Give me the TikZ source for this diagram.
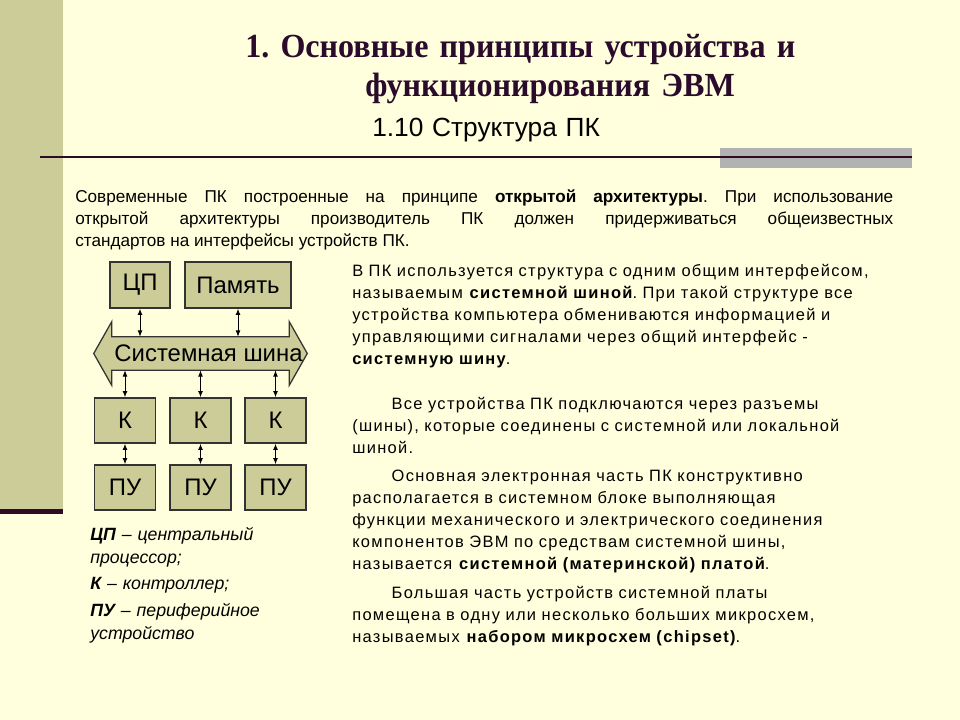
\documentclass[tikz,border=0pt]{standalone}
\usepackage{fontspec}
\setmainfont{Liberation Sans}
\newfontfamily\ttlfont[FakeStretch=0.95]{Liberation Serif}
\newfontfamily\colfont[LetterSpace=8]{Liberation Sans}
\usetikzlibrary{positioning,arrows.meta,calc}
\definecolor{slbg}{HTML}{FFFFDD}
\definecolor{slbar}{HTML}{CCCC99}
\definecolor{slbox}{HTML}{CCCC99}
\definecolor{slline}{HTML}{2E0A24}
\definecolor{slgray}{HTML}{B2B2B2}
\definecolor{sltitle}{HTML}{2B0B2B}
\newlength\upx
\setlength\upx{0.025cm}
\frenchspacing

\begin{document}
\begin{tikzpicture}[x=0.025cm, y=-0.025cm,
      unit/.style={draw=black!80, line width=0.9pt, fill=slbox, inner sep=0pt,
                   font=\fontsize{17pt}{19pt}\selectfont},
      link/.style={{Latex[length=4.5pt,width=3.5pt]}-{Latex[length=4.5pt,width=3.5pt]}, line width=0.7pt},
      txt/.style={anchor=base west, inner sep=0pt, align=left, text width=600\upx}
    ]
    % slide background
    \fill[slbg] (0,0) rectangle (960,720);
    \useasboundingbox (0,0) rectangle (960,720);
    \fill[slbar] (0,0) rectangle (63,509);
    \fill[slline] (0,509) rectangle (63,514);
    \fill[slgray] (720,148) rectangle (912,168);
    \draw[slline, line width=1.6pt] (40,157) -- (912,157);

    % heading
    \node[txt, text=sltitle, font=\ttlfont\bfseries\fontsize{24pt}{27.6pt}\selectfont] (ttl) at (245,58)
      {1. Основные принципы устройства и\\\hspace*{120\upx}функционирования ЭВМ};
    \node[txt, font=\fontsize{18.7pt}{20pt}\selectfont] (sub) at (372,137) {1.10 Структура ПК};

    \node[txt, align=justify, text width=818\upx, font=\fontsize{12.2pt}{15.4pt}\selectfont] (intro) at (75,203)
      {Современные ПК построенные на принципе \textbf{открытой архитектуры}. При использование\linebreak
       открытой архитектуры производитель ПК должен придерживаться общеизвестных\linebreak
       стандартов на интерфейсы устройств ПК.};

    % diagram
    \node[unit, minimum width=60\upx, minimum height=46\upx] (cpu) at (140,285) {ЦП};
    \node[unit, minimum width=106\upx, minimum height=46\upx] (mem) at (238,285) {Память};
    \node[minimum width=177\upx, minimum height=33\upx, inner sep=0pt] (bus) at (200.5,353.5) {};
    \draw[unit] (bus.north west) -- (bus.north east) -- ($(bus.north east)+(0,-15)$)
      -- ($(bus.east)+(18,0)$) -- ($(bus.south east)+(0,15)$) -- (bus.south east)
      -- (bus.south west) -- ($(bus.south west)+(0,15)$) -- ($(bus.west)+(-18,0)$)
      -- ($(bus.north west)+(0,-15)$) -- cycle;
    \node[font=\fontsize{17pt}{19pt}\selectfont, inner sep=0pt] (buslbl) at ([xshift=8\upx]bus.center) {Системная шина};

    \node[unit, minimum width=61\upx, minimum height=45\upx] (k1) at (125,420.5) {К};
    \node[unit, minimum width=61\upx, minimum height=45\upx] (k2) at (200.5,420.5) {К};
    \node[unit, minimum width=61\upx, minimum height=45\upx] (k3) at (275.5,420.5) {К};
    \node[unit, minimum width=61\upx, minimum height=45\upx] (pu1) at (125,487.5) {ПУ};
    \node[unit, minimum width=61\upx, minimum height=45\upx] (pu2) at (200.5,487.5) {ПУ};
    \node[unit, minimum width=61\upx, minimum height=45\upx] (pu3) at (275.5,487.5) {ПУ};

    \draw[link] (cpu.south) -- (cpu.south |- bus.north);
    \draw[link] (mem.south) -- (mem.south |- bus.north);
    \draw[link] (k1.north |- bus.south) -- (k1.north);
    \draw[link] (k2.north |- bus.south) -- (k2.north);
    \draw[link] (k3.north |- bus.south) -- (k3.north);
    \draw[link] (k1) -- (pu1);
    \draw[link] (k2) -- (pu2);
    \draw[link] (k3) -- (pu3);

    % legend
    \node[txt, text width=250\upx, font=\itshape\fontsize{12.6pt}{16.3pt}\selectfont] (legend) at (90,541)
      {\textbf{ЦП} – центральный\\процессор;\\[2.1pt]
       \textbf{К} – контроллер;\\[2.8pt]
       \textbf{ПУ} – периферийное\\устройство};

    % right column
    \node[txt, font=\colfont\fontsize{11.7pt}{15.6pt}\selectfont] (col1) at (352,277)
      {В ПК используется структура с одним общим интерфейсом,\\
       называемым \textbf{системной шиной}. При такой структуре все\\
       устройства компьютера обмениваются информацией и\\
       управляющими сигналами через общий интерфейс -\\
       \textbf{системную шину}.};
    \node[txt, font=\colfont\fontsize{11.7pt}{15.6pt}\selectfont] (col2) at (352,410)
      {\hspace*{28pt}Все устройства ПК подключаются через разъемы\\
       (шины), которые соединены с системной или локальной\\
       шиной.};
    \node[txt, font=\colfont\fontsize{11.7pt}{15.6pt}\selectfont] (col3) at (352,482)
      {\hspace*{28pt}Основная электронная часть ПК конструктивно\\
       располагается в системном блоке выполняющая\\
       функции механического и электрического соединения\\
       компонентов ЭВМ по средствам системной шины,\\
       называется \textbf{системной (материнской) платой}.};
    \node[txt, font=\colfont\fontsize{11.7pt}{15.6pt}\selectfont] (col4) at (352,599)
      {\hspace*{28pt}Большая часть устройств системной платы\\
       помещена в одну или несколько больших микросхем,\\
       называемых \textbf{набором микросхем (chipset)}.};
\end{tikzpicture}
\end{document}
